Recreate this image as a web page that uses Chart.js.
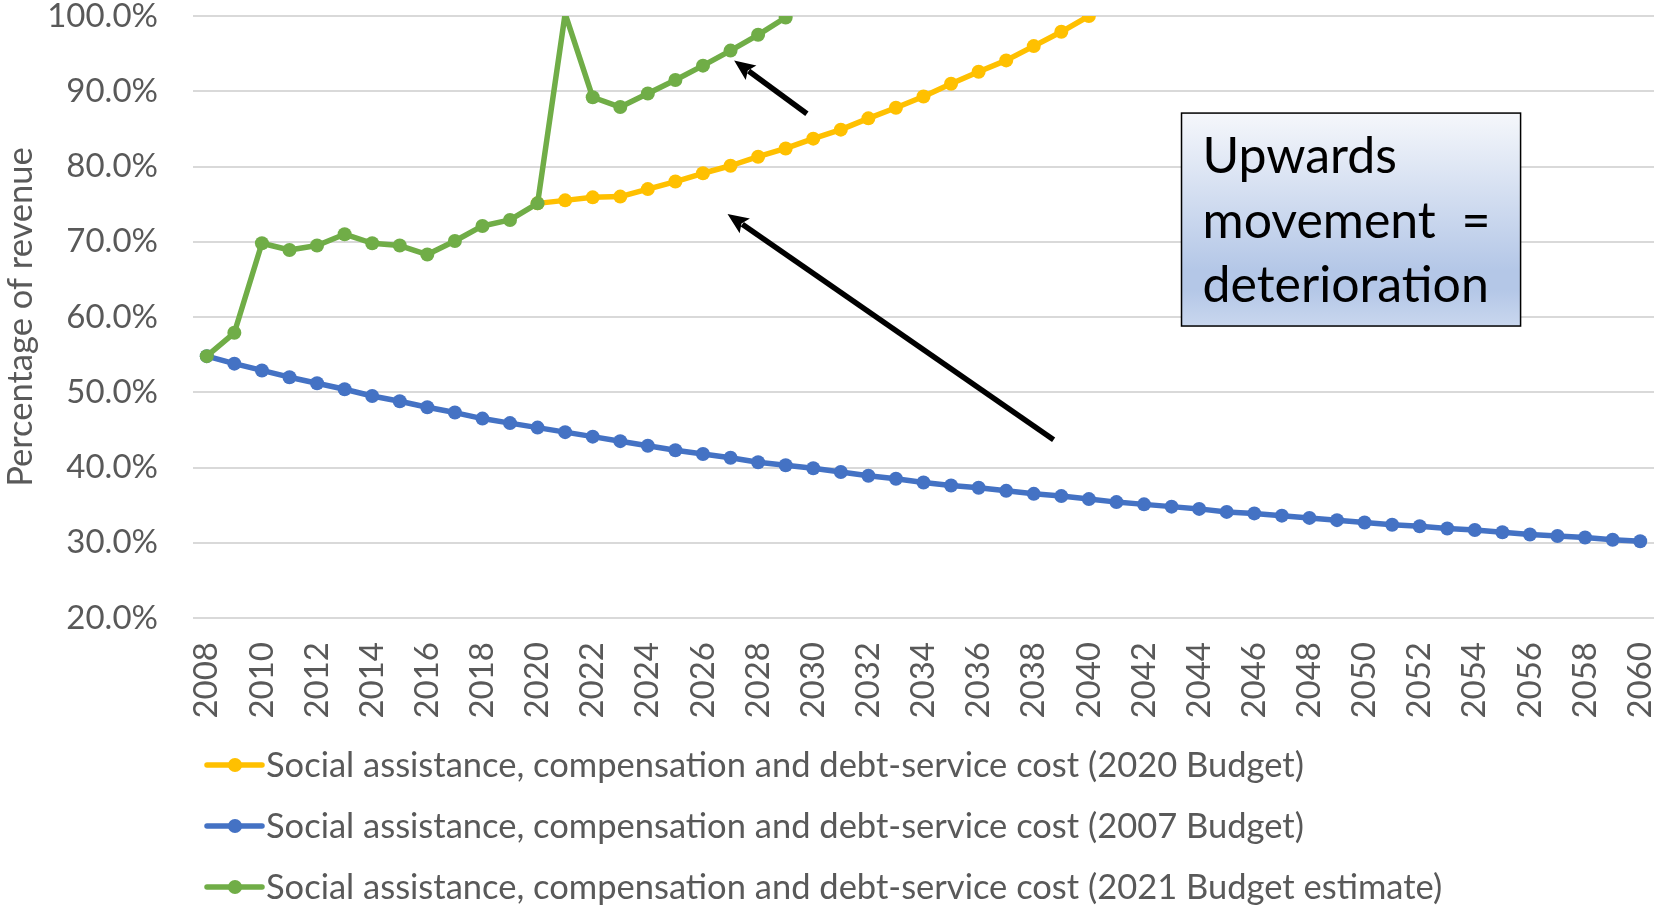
<!DOCTYPE html>
<html>
<head>
<meta charset="utf-8">
<title>Social assistance, compensation and debt-service cost</title>
<script src="https://cdn.jsdelivr.net/npm/chart.js@4.4.1/dist/chart.umd.min.js"></script>
<style>
  body { margin: 0; background: #fff; }
  .wrap { position: relative; width: 1661px; height: 908px; }
</style>
</head>
<body>
<div class="wrap"><canvas id="chart"></canvas></div>
<script>
// years on the category axis
var years = ['2008','2009','2010','2011','2012','2013','2014','2015','2016','2017',
  '2018','2019','2020','2021','2022','2023','2024','2025','2026','2027',
  '2028','2029','2030','2031','2032','2033','2034','2035','2036','2037',
  '2038','2039','2040','2041','2042','2043','2044','2045','2046','2047',
  '2048','2049','2050','2051','2052','2053','2054','2055','2056','2057',
  '2058','2059','2060'];

// % of revenue
var budget2020 = [null,null,null,null,null,null,null,null,null,null,null,null,
  75.1,75.5,75.9,76.0,77.0,78.0,79.1,80.1,81.3,82.4,
  83.7,84.9,86.4,87.8,89.3,91.0,92.6,94.1,96.0,97.9,100.0];

var budget2007 = [54.8,53.8,52.9,52.0,51.2,50.4,49.5,48.8,48.0,47.3,
  46.5,45.9,45.3,44.7,44.1,43.5,42.9,42.3,41.8,41.3,
  40.7,40.3,39.9,39.4,38.9,38.5,38.0,37.6,37.3,36.9,
  36.5,36.2,35.8,35.4,35.1,34.8,34.5,34.1,33.9,33.6,
  33.3,33.0,32.7,32.4,32.2,31.9,31.7,31.4,31.1,30.9,
  30.7,30.4,30.2];

// 2021 value runs off the top of the axis
var budget2021 = [54.8,57.9,69.8,68.9,69.5,71.0,69.8,69.5,68.3,70.1,
  72.1,72.9,75.1,100.3,89.2,87.9,89.7,91.5,93.4,95.4,97.5,99.8];

var seriesNames = [
  'Social assistance, compensation and debt-service cost (2020 Budget)',
  'Social assistance, compensation and debt-service cost (2007 Budget)',
  'Social assistance, compensation and debt-service cost (2021 Budget estimate)'
];
var seriesColors = ['#FFC000', '#4472C4', '#70AD47'];

var yMin = 20, yMax = 100, yStep = 10;

// annotation arrows / box in data units (fractional year, %)
var arrows = [
  { from: [2038.72, 43.7], to: [2026.89, 73.7] },
  { from: [2029.77, 87.0], to: [2027.13, 94.1] }
];
var noteBox = { x1: 2043.36, x2: 2055.66, y1: 87.1, y2: 58.8 };
var noteLines = ['Upwards', 'movement  =', 'deterioration'];

var textGrey = '#595959';
Chart.defaults.font.family = 'Lato';
Chart.defaults.color = textGrey;

function xPix(chart, yr) {
  return chart.scales.x.getPixelForValue(yr - 2008);
}
function yPix(chart, v) {
  return chart.scales.y.getPixelForValue(v);
}

function drawArrow(ctx, x1, y1, x2, y2) {
  var a = Math.atan2(y2 - y1, x2 - x1);
  var head = 21, half = 9;
  var bx = x2 - head * Math.cos(a), by = y2 - head * Math.sin(a);
  ctx.beginPath();
  ctx.moveTo(x1, y1);
  ctx.lineTo(bx + 3 * Math.cos(a), by + 3 * Math.sin(a));
  ctx.lineWidth = 5.5;
  ctx.strokeStyle = '#000';
  ctx.lineCap = 'butt';
  ctx.stroke();
  ctx.beginPath();
  ctx.moveTo(x2, y2);
  ctx.lineTo(bx - half * Math.sin(a), by + half * Math.cos(a));
  ctx.lineTo(bx + 4 * Math.cos(a), by + 4 * Math.sin(a));
  ctx.lineTo(bx + half * Math.sin(a), by - half * Math.cos(a));
  ctx.closePath();
  ctx.fillStyle = '#000';
  ctx.fill();
}

var extras = {
  id: 'extras',
  afterDraw: function (chart) {
    var ctx = chart.ctx;
    var area = chart.chartArea;
    ctx.save();

    // note box
    var bx1 = xPix(chart, noteBox.x1), bx2 = xPix(chart, noteBox.x2);
    var by1 = yPix(chart, noteBox.y1), by2 = yPix(chart, noteBox.y2);
    var g = ctx.createLinearGradient(0, by1, 0, by2);
    g.addColorStop(0, '#F5F7FB');
    g.addColorStop(0.74, '#B4C7E7');
    g.addColorStop(0.83, '#B4C7E7');
    g.addColorStop(1, '#C9D7EE');
    ctx.fillStyle = g;
    ctx.fillRect(bx1, by1, bx2 - bx1, by2 - by1);
    ctx.lineWidth = 1.5;
    ctx.strokeStyle = '#000';
    ctx.strokeRect(bx1, by1, bx2 - bx1, by2 - by1);
    ctx.fillStyle = '#000';
    ctx.font = '50px Lato';
    ctx.textAlign = 'left';
    ctx.textBaseline = 'alphabetic';
    noteLines.forEach(function (t, i) {
      ctx.fillText(t, bx1 + 21, by1 + 60 + i * 64.5);
    });

    // arrows
    arrows.forEach(function (ar) {
      drawArrow(ctx, xPix(chart, ar.from[0]), yPix(chart, ar.from[1]),
        xPix(chart, ar.to[0]), yPix(chart, ar.to[1]));
    });

    // legend, one series per row
    ctx.font = '34.5px Lato';
    ctx.textBaseline = 'middle';
    chart.data.datasets.forEach(function (ds, row) {
      var y = area.bottom + 147 + row * 61;
      var x0 = area.left + 14;
      ctx.beginPath();
      ctx.moveTo(x0, y);
      ctx.lineTo(x0 + 55, y);
      ctx.strokeStyle = ds.borderColor;
      ctx.lineWidth = 5.5;
      ctx.lineCap = 'round';
      ctx.stroke();
      ctx.beginPath();
      ctx.arc(x0 + 28, y, 7, 0, Math.PI * 2);
      ctx.fillStyle = ds.borderColor;
      ctx.fill();
      ctx.fillStyle = textGrey;
      ctx.fillText(ds.label, x0 + 59, y + 1);
    });
    ctx.restore();
  }
};

function series(label, data, color, order) {
  return {
    label: label,
    data: data,
    borderColor: color,
    backgroundColor: color,
    pointBackgroundColor: color,
    pointBorderWidth: 0,
    pointRadius: function (c) { return c.raw > yMax ? 0 : 7; },
    borderWidth: 5.5,
    borderJoinStyle: 'round',
    tension: 0,
    spanGaps: false,
    order: order
  };
}

new Chart(document.getElementById('chart'), {
  type: 'line',
  data: {
    labels: years,
    datasets: [
      series(seriesNames[0], budget2020, seriesColors[0], 1),
      series(seriesNames[1], budget2007, seriesColors[1], 2),
      series(seriesNames[2], budget2021, seriesColors[2], 0)
    ]
  },
  options: {
    responsive: true,
    maintainAspectRatio: false,
    animation: false,
    events: [],
    layout: { padding: 0 },
    plugins: {
      legend: { display: false },
      tooltip: { enabled: false }
    },
    scales: {
      x: {
        offset: true,
        grid: { display: false, drawTicks: false },
        border: { display: false },
        ticks: {
          autoSkip: false,
          maxRotation: 90,
          minRotation: 90,
          padding: 24,
          font: { size: 33 },
          callback: function (v, i) { return i % 2 === 0 ? years[i] : null; }
        },
        afterFit: function (s) {
          s.height = 290;
          s.paddingLeft = 0;
          s.paddingRight = 0;
        }
      },
      y: {
        min: yMin,
        max: yMax,
        grid: { color: '#D9D9D9', lineWidth: 2, drawTicks: false },
        border: { display: false },
        ticks: {
          stepSize: yStep,
          padding: 35,
          font: { size: 33 },
          callback: function (v) { return v.toFixed(1) + '%'; }
        },
        title: {
          display: true,
          text: 'Percentage of revenue',
          font: { size: 34.5 },
          padding: 0
        },
        afterFit: function (s) {
          s.width = 193;
          s.paddingTop = 16;
          s.paddingBottom = 0;
        }
      }
    }
  },
  plugins: [extras]
});
</script>
</body>
</html>
